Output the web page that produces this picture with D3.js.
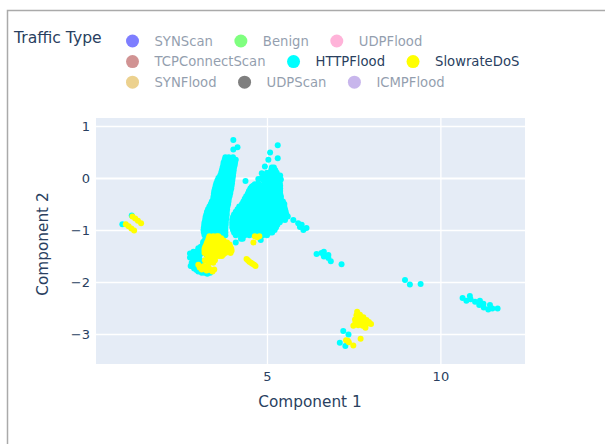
<!DOCTYPE html>
<meta charset="utf-8">
<style>
    html, body { margin: 0; background: #fff; }
    text { font-family: "DejaVu Sans", Verdana, sans-serif; fill: #2a3f5f; }
</style>
<svg width="605" height="444"></svg>
<script src="https://cdn.jsdelivr.net/npm/d3@7"></script>
<script>
    // legend, in the order of the traces, each row is one legend line
    var legendRows = [
        ["SYNScan", "Benign", "UDPFlood"],
        ["TCPConnectScan", "HTTPFlood", "SlowrateDoS"],
        ["SYNFlood", "UDPScan", "ICMPFlood"]
    ];
    var legendColors = ["blue", "lime", "hotpink", "brown", "cyan", "yellow", "goldenrod", "black", "mediumpurple"];
    var visibleTypes = ["HTTPFlood", "SlowrateDoS"];

    var xTicks = [5, 10];
    var yTicks = [1, 0, -1, -2, -3];

    // points, written as [y, [x, x, ...]] rows
    var httpLeftLobe = [
        [0.40, [3.80, 3.90, 4.02]],
        [0.35, [3.78, 3.90, 4.02, 4.10]],
        [0.30, [3.75, 3.87, 3.98, 4.08]],
        [0.25, [3.74, 3.86, 3.98, 4.07]],
        [0.20, [3.72, 3.84, 3.95, 4.05]],
        [0.15, [3.70, 3.82, 3.94, 4.04]],
        [0.10, [3.68, 3.80, 3.92, 4.03]],
        [0.05, [3.65, 3.77, 3.89, 4.02]],
        [0.00, [3.60, 3.72, 3.84, 3.93, 4.01]],
        [-0.05, [3.57, 3.69, 3.81, 3.92, 4.00]],
        [-0.10, [3.54, 3.66, 3.78, 3.89, 3.99]],
        [-0.15, [3.52, 3.64, 3.76, 3.88, 3.98]],
        [-0.20, [3.50, 3.62, 3.74, 3.86, 3.97]],
        [-0.25, [3.48, 3.60, 3.72, 3.84, 3.95]],
        [-0.30, [3.47, 3.59, 3.71, 3.83, 3.94]],
        [-0.35, [3.46, 3.58, 3.70, 3.82, 3.92]],
        [-0.40, [3.45, 3.57, 3.69, 3.80, 3.90]],
        [-0.45, [3.41, 3.53, 3.65, 3.77, 3.89]],
        [-0.50, [3.38, 3.50, 3.62, 3.75, 3.88]],
        [-0.55, [3.34, 3.46, 3.58, 3.70, 3.86]],
        [-0.60, [3.30, 3.42, 3.54, 3.67, 3.76, 3.85]],
        [-0.65, [3.27, 3.40, 3.52, 3.64, 3.76, 3.84]],
        [-0.70, [3.25, 3.38, 3.50, 3.62, 3.74, 3.84]],
        [-0.75, [3.23, 3.36, 3.48, 3.60, 3.72, 3.83]],
        [-0.80, [3.22, 3.34, 3.46, 3.58, 3.70, 3.82]],
        [-0.85, [3.20, 3.32, 3.44, 3.56, 3.69, 3.81]],
        [-0.90, [3.19, 3.31, 3.43, 3.55, 3.68, 3.81]],
        [-0.95, [3.18, 3.30, 3.42, 3.55, 3.67, 3.80]],
        [-1.00, [3.17, 3.30, 3.42, 3.55, 3.67, 3.80]],
        [-1.05, [3.18, 3.31, 3.44, 3.57, 3.68, 3.80]],
        [-1.10, [3.20, 3.33, 3.46, 3.60, 3.70, 3.80]]
    ];
    var httpRightLobe = [
        [0.20, [5.14, 5.20]],
        [0.15, [5.12, 5.24]],
        [0.10, [5.12, 5.20, 5.28]],
        [0.05, [5.08, 5.20, 5.31]],
        [0.00, [5.10, 5.22, 5.33]],
        [-0.05, [4.98, 5.08, 5.20, 5.30, 5.35]],
        [-0.10, [4.95, 5.05, 5.16, 5.27, 5.37]],
        [-0.15, [4.60, 4.72, 4.84, 4.96, 5.08, 5.20, 5.32, 5.38]],
        [-0.20, [4.52, 4.65, 4.78, 4.90, 5.02, 5.14, 5.26, 5.38]],
        [-0.25, [4.48, 4.61, 4.74, 4.87, 5.00, 5.13, 5.26, 5.38]],
        [-0.30, [4.45, 4.58, 4.71, 4.84, 4.97, 5.10, 5.24, 5.38]],
        [-0.35, [4.40, 4.53, 4.66, 4.79, 4.92, 5.05, 5.18, 5.30, 5.40]],
        [-0.40, [4.36, 4.50, 4.63, 4.76, 4.89, 5.02, 5.14, 5.26, 5.40]],
        [-0.45, [4.32, 4.45, 4.58, 4.71, 4.84, 4.97, 5.10, 5.23, 5.36, 5.46]],
        [-0.50, [4.28, 4.41, 4.54, 4.67, 4.80, 4.93, 5.06, 5.19, 5.31, 5.42, 5.50]],
        [-0.55, [4.20, 4.34, 4.47, 4.60, 4.73, 4.86, 4.99, 5.12, 5.25, 5.38, 5.50]],
        [-0.60, [4.15, 4.28, 4.41, 4.54, 4.67, 4.80, 4.93, 5.06, 5.19, 5.32, 5.42, 5.52]],
        [-0.65, [4.10, 4.23, 4.36, 4.49, 4.62, 4.75, 4.88, 5.01, 5.14, 5.27, 5.40, 5.54]],
        [-0.70, [4.05, 4.18, 4.31, 4.44, 4.57, 4.70, 4.83, 4.96, 5.09, 5.22, 5.35, 5.46, 5.56]],
        [-0.75, [4.02, 4.15, 4.28, 4.41, 4.54, 4.67, 4.80, 4.93, 5.06, 5.19, 5.32, 5.45, 5.52]],
        [-0.80, [4.00, 4.13, 4.26, 4.39, 4.52, 4.65, 4.78, 4.91, 5.04, 5.17, 5.31, 5.44]],
        [-0.85, [4.00, 4.13, 4.26, 4.39, 4.52, 4.65, 4.78, 4.91, 5.04, 5.17, 5.26, 5.37]],
        [-0.90, [4.00, 4.13, 4.26, 4.39, 4.52, 4.65, 4.78, 4.91, 5.04, 5.17, 5.30]],
        [-0.95, [4.00, 4.13, 4.26, 4.39, 4.52, 4.65, 4.78, 4.91, 5.04, 5.17, 5.26]],
        [-1.00, [4.02, 4.15, 4.28, 4.41, 4.54, 4.67, 4.80, 4.93, 5.06, 5.22]],
        [-1.05, [4.05, 4.18, 4.31, 4.44, 4.57, 4.70, 4.83, 4.96, 5.09, 5.15]],
        [-1.10, [4.10, 4.23, 4.36, 4.49, 4.62, 4.75, 4.88, 5.00]],
        [-1.17, [4.25, 4.30]]
    ];
    var httpScattered = [
        [4.03, 0.73], [4.15, 0.59], [4.03, 0.55], [4.38, -0.06], [4.56, -0.17], [4.75, -0.02],
        [4.85, 0.09], [4.94, 0.22], [5.04, 0.35], [5.09, 0.49], [5.31, 0.63], [5.31, 0.38],
        [4.82, -1.19], [4.10, -1.24],
        // top left edge of the second lobe
        [4.85, 0.00], [4.95, 0.05], [5.00, 0.10], [4.90, -0.05], [5.02, -0.03], [4.75, -0.10], [4.65, -0.12], [5.40, -0.03], [5.38, 0.05],
        // tail to the right of the second lobe
        [5.52, -0.81], [5.60, -0.74], [5.76, -0.81], [5.90, -0.87], [5.95, -0.94], [6.00, -0.90], [6.05, -1.00], [6.14, -0.96],
        // lower left, mostly under the yellow
        [2.78, -1.53], [2.88, -1.42], [3.02, -1.35], [2.92, -1.51], [3.07, -1.58], [2.83, -1.69], [2.97, -1.77],
        [3.12, -1.82], [3.36, -1.82], [3.16, -1.70], [3.26, -1.48], [3.16, -1.26], [3.26, -1.13],
        [2.95, -1.42], [3.10, -1.45], [3.05, -1.50], [2.85, -1.50], [2.90, -1.72], [3.05, -1.78], [3.20, -1.80],
        [3.00, -1.60], [3.12, -1.36], [3.20, -1.20], [3.10, -1.62],
        [2.78, -1.45], [2.88, -1.55], [2.97, -1.45], [2.97, -1.58], [2.80, -1.69], [2.90, -1.74], [3.02, -1.80],
        [3.20, -1.82], [3.05, -1.42], [3.09, -1.32], [2.83, -1.63], [3.16, -1.23], [2.92, -1.64], [3.28, -1.84],
        // far left
        [0.83, -0.89], [1.10, -0.72],
        // middle small groups
        [6.43, -1.46], [6.57, -1.44], [6.64, -1.42], [6.64, -1.51], [6.77, -1.48], [6.77, -1.54], [6.84, -1.60], [7.15, -1.66],
        [8.98, -1.96], [9.12, -2.05], [9.43, -2.04],
        // right group
        [10.64, -2.31], [10.75, -2.36], [10.85, -2.27], [10.87, -2.33], [11.00, -2.38], [11.14, -2.36], [11.12, -2.44],
        [11.24, -2.42], [11.25, -2.49], [11.43, -2.44], [11.38, -2.53], [11.50, -2.51], [11.65, -2.51],
        // below the yellow group
        [7.20, -2.94], [7.35, -3.01], [7.10, -3.17], [7.26, -3.23]
    ];

    var slowMainBlob = [
        [-1.12, [3.34, 3.45, 3.55, 3.60]],
        [-1.16, [3.32, 3.44, 3.56, 3.68]],
        [-1.20, [3.30, 3.42, 3.54, 3.65, 3.75]],
        [-1.24, [3.27, 3.39, 3.51, 3.63, 3.75, 3.85]],
        [-1.28, [3.25, 3.37, 3.49, 3.61, 3.73, 3.83, 3.92]],
        [-1.32, [3.22, 3.34, 3.46, 3.58, 3.70, 3.82, 3.94]],
        [-1.36, [3.20, 3.32, 3.44, 3.56, 3.68, 3.80, 3.90, 3.97]],
        [-1.40, [3.20, 3.26, 3.38, 3.50, 3.62, 3.74, 3.86, 3.96]],
        [-1.44, [3.20, 3.32, 3.44, 3.56, 3.68, 3.80, 3.95]],
        [-1.47, [3.26, 3.38, 3.50, 3.62, 3.74]],
        [-1.50, [3.30, 3.42, 3.54, 3.62, 3.70]]
    ];
    var slowScattered = [
        [3.21, -1.58], [3.45, -1.63], [3.36, -1.55], [3.28, -1.60], [3.50, -1.58], [3.38, -1.62],
        [3.02, -1.67], [3.12, -1.71], [3.24, -1.74], [3.40, -1.78], [3.12, -1.76], [3.26, -1.78], [3.43, -1.80], [3.33, -1.74],
        [3.06, -1.72], [3.18, -1.69], [3.30, -1.70], [3.48, -1.76],
        [4.65, -1.12], [4.78, -1.12], [4.72, -1.14], [4.61, -1.24], [3.98, -1.40],
        [4.41, -1.56], [4.45, -1.58], [4.49, -1.61], [4.54, -1.63], [4.58, -1.65], [4.63, -1.67], [4.67, -1.69],
        // far left strokes
        [1.12, -0.74], [1.20, -0.78], [1.28, -0.82], [1.37, -0.87],
        [0.93, -0.89], [1.01, -0.93], [1.09, -0.97], [1.17, -1.01],
        // lower group
        [7.60, -2.57], [7.68, -2.63], [7.78, -2.68], [7.87, -2.73], [8.00, -2.81], [7.54, -2.72], [7.49, -2.84],
        [7.63, -2.83], [7.84, -2.88], [7.73, -2.73], [7.63, -2.70], [7.72, -2.81], [7.90, -2.80], [7.60, -2.77],
        [7.55, -2.78], [7.68, -2.76], [7.80, -2.76], [7.76, -2.84], [7.58, -2.64], [7.66, -2.70], [7.94, -2.77],
        [7.70, -3.09], [7.28, -3.12], [7.33, -3.13], [7.36, -3.16], [7.49, -3.22]
    ];

    function fromRows(rows) {
        var points = [];
        rows.forEach(function(r) {
            r[1].forEach(function(x) { points.push([x, r[0]]); });
        });
        return points;
    }

    var httpPoints = fromRows(httpLeftLobe).concat(fromRows(httpRightLobe), httpScattered);
    var slowPoints = fromRows(slowMainBlob).concat(slowScattered);

    var svg = d3.select("svg");

    var plot = { left: 96, right: 525, top: 118, bottom: 364 };

    var x = d3.scaleLinear().domain([0.07, 12.44]).range([plot.left, plot.right]);
    var y = d3.scaleLinear().domain([1.154, -3.577]).range([plot.top, plot.bottom]);

    // grey frame of the screenshot, open to the right and bottom
    svg.append("path")
        .attr("d", "M7.5,444V10.5H605")
        .attr("fill", "none")
        .attr("stroke", "#aaa")
        .attr("stroke-width", 1.5);

    svg.append("rect")
        .attr("x", plot.left)
        .attr("y", plot.top)
        .attr("width", plot.right - plot.left)
        .attr("height", plot.bottom - plot.top)
        .attr("fill", "#e5ecf6");

    var xAxis = svg.append("g")
        .attr("transform", "translate(0," + plot.bottom + ")")
        .call(d3.axisBottom(x).tickValues(xTicks).tickSize(plot.top - plot.bottom).tickPadding(8));

    var yAxis = svg.append("g")
        .attr("transform", "translate(" + plot.left + ",0)")
        .call(d3.axisLeft(y).tickValues(yTicks).tickFormat(d3.format("d")).tickSize(plot.left - plot.right).tickPadding(6));

    [xAxis, yAxis].forEach(function(axis) {
        axis.select(".domain").remove();
        axis.selectAll("line").attr("stroke", "#fff").attr("stroke-width", 1.3);
        axis.selectAll("text").style("font-size", "13px").attr("fill", "#2a3f5f");
    });
    // zero line is heavier
    yAxis.selectAll(".tick").filter(function(d) { return d === 0; }).select("line").attr("stroke-width", 2);

    svg.append("clipPath").attr("id", "plot-clip").append("rect")
        .attr("x", plot.left)
        .attr("y", plot.top)
        .attr("width", plot.right - plot.left)
        .attr("height", plot.bottom - plot.top);

    var marks = svg.append("g").attr("clip-path", "url(#plot-clip)");

    marks.selectAll(".http")
        .data(httpPoints)
        .enter().append("circle")
        .attr("class", "http")
        .attr("cx", function(d) { return x(d[0]); })
        .attr("cy", function(d) { return y(d[1]); })
        .attr("r", 3)
        .attr("fill", "cyan");

    marks.selectAll(".slow")
        .data(slowPoints)
        .enter().append("circle")
        .attr("class", "slow")
        .attr("cx", function(d) { return x(d[0]); })
        .attr("cy", function(d) { return y(d[1]); })
        .attr("r", 3)
        .attr("fill", "yellow");

    // axis titles
    svg.append("text")
        .attr("x", 310)
        .attr("y", 407)
        .attr("text-anchor", "middle")
        .style("font-size", "15.3px")
        .text("Component 1");

    svg.append("text")
        .attr("transform", "translate(48,244) rotate(-90)")
        .attr("text-anchor", "middle")
        .style("font-size", "15.3px")
        .text("Component 2");

    // legend
    svg.append("text")
        .attr("x", 14)
        .attr("y", 43)
        .style("font-size", "15.6px")
        .text("Traffic Type");

    var colorIndex = 0;
    legendRows.forEach(function(row, rowIndex) {
        var cursor = 132.5;
        var rowY = 41 + rowIndex * 20.6;
        row.forEach(function(name) {
            var on = visibleTypes.indexOf(name) >= 0;
            var item = svg.append("g").attr("opacity", on ? 1 : 0.5);
            item.append("circle")
                .attr("cx", cursor)
                .attr("cy", rowY)
                .attr("r", 6.5)
                .attr("fill", legendColors[colorIndex]);
            var label = item.append("text")
                .attr("x", cursor + 22)
                .attr("y", rowY + 4.5)
                .style("font-size", "13.2px")
                .text(name);
            cursor += 22 + label.node().getComputedTextLength() + 28;
            colorIndex += 1;
        });
    });
</script>
